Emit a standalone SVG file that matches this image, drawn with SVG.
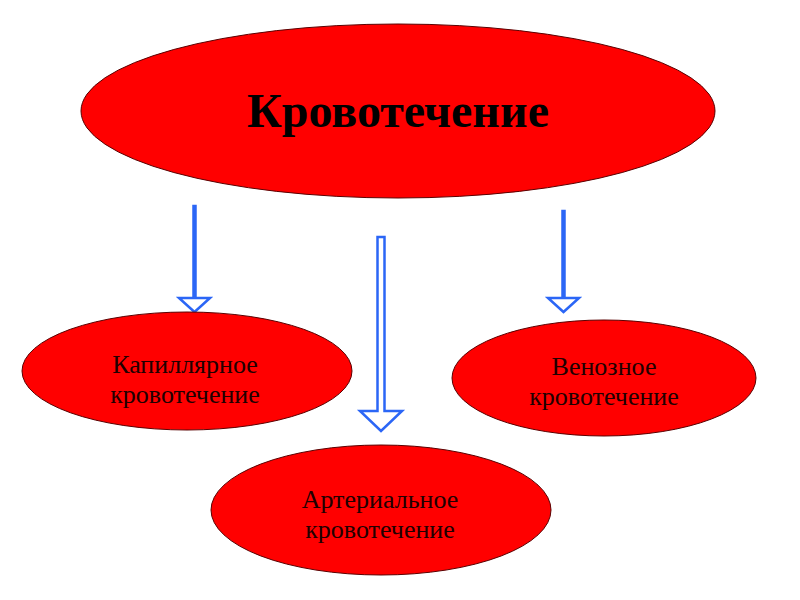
<svg xmlns="http://www.w3.org/2000/svg" width="800" height="600" viewBox="0 0 800 600">
<style>
.node ellipse{fill:#ff0000;stroke:#5a0000;stroke-width:1}
.lbl{font-family:"Liberation Serif","Times New Roman",serif;font-size:26px;fill:#200000;text-anchor:middle}
.title{font-family:"Liberation Serif","Times New Roman",serif;font-size:48px;font-weight:bold;fill:#000;text-anchor:middle}
.arrow{fill:#ffffff;stroke:#2b66f6;stroke-width:2.5;stroke-linejoin:miter}
</style>
<rect width="800" height="600" fill="#ffffff"/>
<g id="connectors">
<polygon class="arrow" points="193.5,206 195.5,206 195.5,298 210,298 194.5,312 179,298 193.5,298"/>
<polygon class="arrow" points="377.5,237 384.5,237 384.5,411 402,411 381,431 360,411 377.5,411"/>
<polygon class="arrow" points="562.5,211 564.5,211 564.5,298 579,298 563.5,312 548,298 562.5,298"/>
</g>
<g id="n-main" class="node">
<ellipse cx="398" cy="111" rx="317" ry="87"/>
<text class="title" x="398" y="127">Кровотечение</text>
</g>
<g id="n-capillary" class="node">
<ellipse cx="187" cy="371" rx="165" ry="59"/>
<text class="lbl" x="185" y="373">Капиллярное</text>
<text class="lbl" x="185" y="403">кровотечение</text>
</g>
<g id="n-venous" class="node">
<ellipse cx="604" cy="378" rx="152" ry="58"/>
<text class="lbl" x="604" y="375">Венозное</text>
<text class="lbl" x="604" y="405">кровотечение</text>
</g>
<g id="n-arterial" class="node">
<ellipse cx="381" cy="510" rx="170" ry="65"/>
<text class="lbl" x="380" y="508">Артериальное</text>
<text class="lbl" x="380" y="538">кровотечение</text>
</g>
</svg>
